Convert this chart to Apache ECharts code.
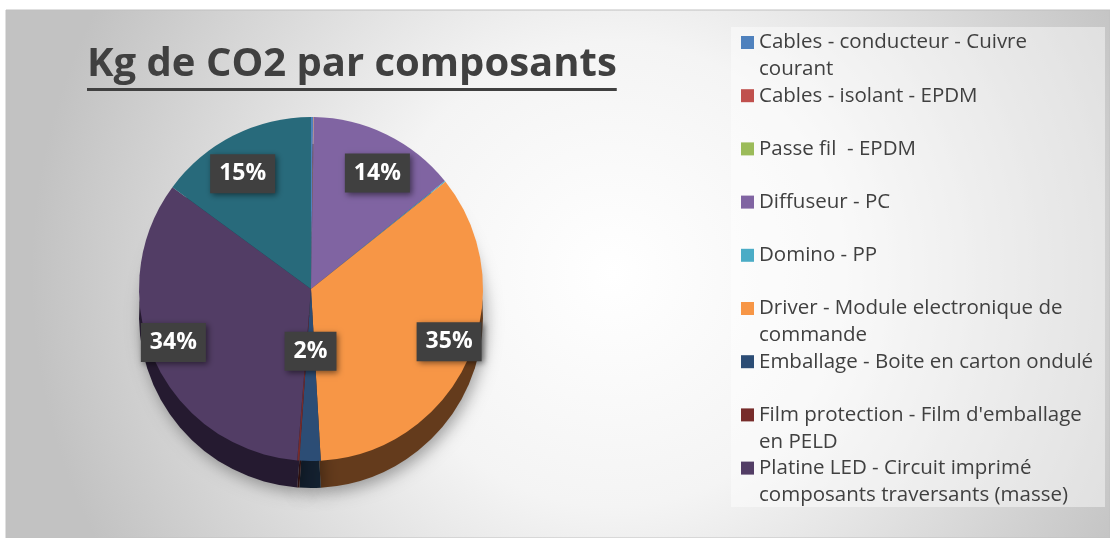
<!DOCTYPE html>
<html>
<head>
<meta charset="utf-8">
<script src="https://cdn.jsdelivr.net/npm/echarts@6/dist/echarts.min.js"></script>
<style>
html, body { margin: 0; padding: 0; background: #fff; }
#chart { width: 1110px; height: 538px; }
</style>
</head>
<body>
<div id="chart"></div>
<script>
// composants, dans l'ordre du camembert (sens horaire depuis midi)
var categories = [
	'Cables - conducteur - Cuivre courant',
	'Cables - isolant - EPDM',
	'Passe fil  - EPDM',
	'Diffuseur - PC',
	'Domino - PP',
	'Driver - Module electronique de commande',
	'Emballage - Boite en carton ondulé',
	"Film protection - Film d'emballage en PELD",
	'Platine LED - Circuit imprimé composants traversants (masse)',
	'Autres composants'
];
// part en %
var values = [0.2, 0.05, 0.02, 14, 0.1, 35, 2, 0.2, 34, 15];
var legendNames = categories.slice(0, 9);
var titleText = 'Kg de CO2 par composants';

var topColors = ['#4F81BD', '#C0504D', '#9BBB59', '#8064A2', '#4BACC6', '#F79646', '#2C4D75', '#772C2A', '#523D65', '#286A7B'];
var sideColors = ['#26405f', '#5e2625', '#4d6129', '#3f3156', '#25596a', '#643B1C', '#13202F', '#3a1514', '#251A30', '#14394a'];

var cx = 311, cy = 289, R = 172, depth = 27;
var total = values.reduce(function (a, b) { return a + b; }, 0);

var titleSize = 40;
var ctx = document.createElement('canvas').getContext('2d');
ctx.font = 'bold ' + titleSize + 'px "Open Sans"';
var titleWidth = ctx.measureText(titleText).width;

var myChart = echarts.init(document.getElementById('chart'));

var topData = categories.map(function (name, i) {
	return {
		name: name,
		value: values[i],
		itemStyle: { color: topColors[i] },
		label: { show: values[i] / total >= 0.01 }
	};
});
var sideData = categories.map(function (name, i) {
	return { name: name, value: values[i], itemStyle: { color: sideColors[i] } };
});

var option = {
	animation: false,
	backgroundColor: '#ffffff',
	title: {
		text: titleText,
		left: 87,
		top: 45,
		padding: 0,
		textStyle: { fontFamily: 'Open Sans', fontWeight: 'bold', fontSize: titleSize, color: '#404040' }
	},
	legend: {
		data: legendNames,
		orient: 'vertical',
		left: 741,
		top: 2,
		padding: 0,
		itemWidth: 13,
		itemHeight: 13,
		itemGap: -27.8,
		icon: 'rect',
		selectedMode: false,
		formatter: function (name) {
			return '{n|' + name + '}';
		},
		textStyle: {
			width: 347,
			overflow: 'break',
			height: 54,
			lineHeight: 27,
			padding: [27, 0, 0, 0],
			rich: {
				n: { fontFamily: 'Open Sans', fontSize: 20.5, color: '#404040', lineHeight: 27 }
			}
		}
	},
	graphic: [
		{
			type: 'rect', z: -100, silent: true,
			shape: { x: 6, y: 10, width: 1104, height: 528 },
			style: {
				fill: {
					type: 'radial', x: 0.55, y: 0.5, r: 1.1,
					colorStops: [{ offset: 0, color: '#ffffff' }, { offset: 0.4, color: '#f4f4f4' }, { offset: 1, color: '#c2c2c2' }]
				},
				stroke: '#c0c0c0', lineWidth: 1
			}
		},
		{
			type: 'rect', z: -50, silent: true,
			shape: { x: 731, y: 27, width: 374, height: 480 },
			style: { fill: 'rgba(255,255,255,0.45)' }
		},
		{
			type: 'rect', z: 100, silent: true,
			shape: { x: 87, y: 88, width: titleWidth, height: 3 },
			style: { fill: '#404040' }
		}
	],
	series: [
		{
			name: 'top',
			type: 'pie',
			z: 3,
			center: [cx, cy],
			radius: R,
			startAngle: 90,
			clockwise: true,
			percentPrecision: 0,
			avoidLabelOverlap: false,
			emphasis: { disabled: true },
			itemStyle: { borderWidth: 0 },
			label: {
				position: 'inside',
				formatter: '{d}%',
				fontFamily: 'Open Sans',
				fontWeight: 'bold',
				fontSize: 23,
				color: '#ffffff',
				backgroundColor: '#404040',
				padding: [9, 9, 7, 9],
				shadowColor: 'rgba(0,0,0,0.5)',
				shadowBlur: 6,
				shadowOffsetX: 2,
				shadowOffsetY: 2
			},
			labelLine: { show: false },
			labelLayout: function (p) {
				if (!p.labelRect) return;
				var r = p.labelRect;
				var lx = r.x + r.width / 2, ly = r.y + r.height / 2;
				var big = values[p.dataIndex] / total > 0.05;
				var kx = big ? 1.7 : 1, ky = big ? 1.45 : 0.7;
				return { x: cx + (lx - cx) * kx, y: cy + (ly - cy) * ky };
			},
			data: topData
		},
		{
			name: 'side',
			type: 'pie',
			z: 2,
			center: [cx, cy + depth],
			radius: R,
			startAngle: 90,
			clockwise: true,
			emphasis: { disabled: true },
			itemStyle: {
				borderWidth: 0,
				shadowColor: 'rgba(0,0,0,0.35)',
				shadowBlur: 16,
				shadowOffsetX: 3,
				shadowOffsetY: 5
			},
			label: { show: false },
			labelLine: { show: false },
			data: sideData
		}
	]
};

myChart.setOption(option);
</script>
</body>
</html>
